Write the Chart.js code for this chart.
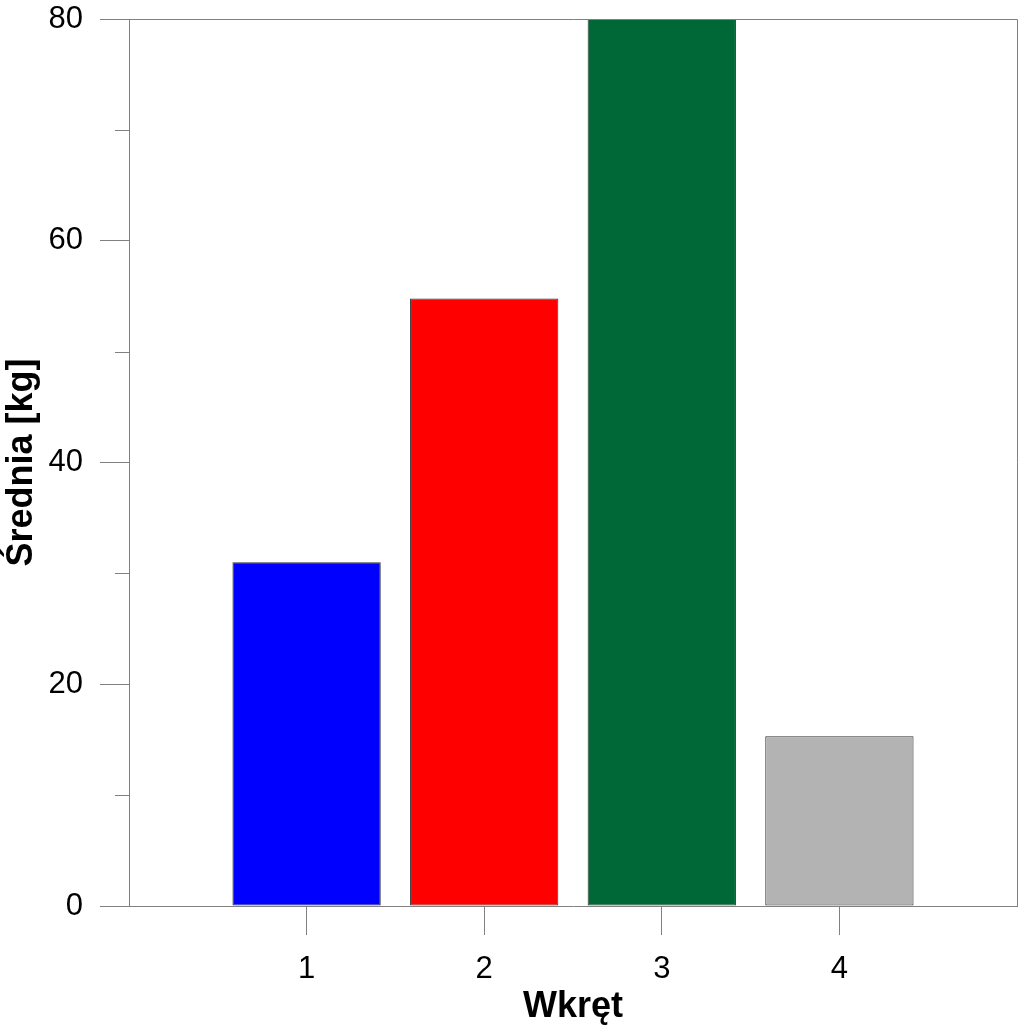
<!DOCTYPE html>
<html>
<head>
<meta charset="utf-8">
<script src="https://cdn.jsdelivr.net/npm/chart.js@4/dist/chart.umd.min.js"></script>
<style>
  body { margin: 0; background: #fff; }
  #wrap { width: 1024px; height: 1029px; }
</style>
</head>
<body>
<div id="wrap"><canvas id="chart" width="1024" height="1029"></canvas></div>
<script>
const categories = [1, 2, 3, 4];
const values = [31, 54.8, 80, 15.3];
const barColors = ['#0000ff', '#ff0000', '#006837', '#b3b3b3'];
const yMinorTicks = [10, 30, 50, 70];

const axisGray = '#808080';

// frame on top/right and the short minor ticks on the y axis
const framePlugin = {
  id: 'frame',
  afterDraw(chart) {
    const { ctx, chartArea: a } = chart;
    const y = chart.scales.y;
    ctx.save();
    ctx.strokeStyle = axisGray;
    ctx.lineWidth = 1;
    ctx.beginPath();
    ctx.moveTo(a.left, a.top + 0.5);
    ctx.lineTo(a.right + 0.5, a.top + 0.5);
    ctx.lineTo(a.right + 0.5, a.bottom);
    yMinorTicks.forEach(v => {
      const py = Math.round(y.getPixelForValue(v)) + 0.5;
      ctx.moveTo(a.left - 14, py);
      ctx.lineTo(a.left, py);
    });
    ctx.stroke();
    ctx.restore();
  }
};

const isCat = v => categories.includes(v);

new Chart(document.getElementById('chart').getContext('2d'), {
  type: 'bar',
  data: {
    datasets: [{
      data: categories.map((c, i) => ({ x: c, y: values[i] })),
      backgroundColor: barColors,
      borderColor: '#303030',
      borderWidth: 1,
      borderSkipped: false,
      barPercentage: 0.835,
      categoryPercentage: 1
    }]
  },
  options: {
    responsive: false,
    animation: false,
    layout: { padding: { top: 19, right: 7, left: 0, bottom: 0 } },
    plugins: { legend: { display: false }, tooltip: { enabled: false } },
    scales: {
      x: {
        type: 'linear',
        min: 0,
        max: 5,
        offset: false,
        afterFit(scale) {
          scale.height = 123;
          scale.paddingLeft = 0;
          scale.paddingRight = 0;
        },
        grid: {
          offset: false,
          drawOnChartArea: false,
          tickLength: 29,
          tickColor: ctx => (ctx.tick && isCat(ctx.tick.value)) ? axisGray : 'rgba(0,0,0,0)'
        },
        border: { color: axisGray },
        ticks: {
          stepSize: 1,
          padding: 16,
          color: '#000',
          font: { family: 'Liberation Sans, Arial', size: 31 },
          callback: v => isCat(v) ? String(v) : ''
        },
        title: {
          display: true,
          text: 'Wkręt',
          color: '#000',
          font: { family: 'Liberation Sans, Arial', size: 36, weight: 'bold' },
          padding: { top: 0, bottom: 0 }
        }
      },
      y: {
        min: 0,
        max: 80,
        afterFit(scale) {
          scale.width = 129;
          scale.paddingTop = 0;
          scale.paddingBottom = 0;
        },
        grid: { drawOnChartArea: false, tickLength: 29, tickColor: axisGray },
        border: { color: axisGray },
        ticks: {
          stepSize: 20,
          padding: 17,
          color: '#000',
          font: { family: 'Liberation Sans, Arial', size: 31 }
        },
        title: {
          display: true,
          text: 'Średnia [kg]',
          color: '#000',
          font: { family: 'Liberation Sans, Arial', size: 36, weight: 'bold' },
          padding: { top: 0, bottom: 0 }
        }
      }
    }
  },
  plugins: [framePlugin]
});
</script>
</body>
</html>
